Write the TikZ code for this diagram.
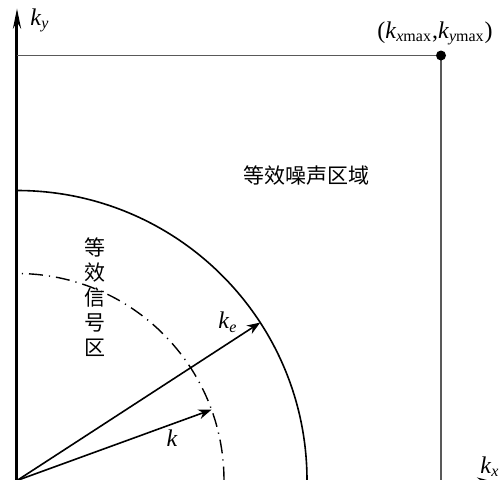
\documentclass[tikz,border=0pt]{standalone}
\usepackage{fontspec}
\setmainfont{Liberation Serif}
\newfontfamily\cjk{Noto Sans CJK SC}
\usepackage{tikz}
\usetikzlibrary{arrows.meta,positioning}

\begin{document}
\begin{tikzpicture}[>=Stealth,x=0.5pt,y=0.5pt]
  \useasboundingbox (-17,1.5) rectangle (486,480.5);
  \coordinate (O) at (0,0);
  \coordinate (ytop) at (0,472);
  \coordinate (xend) at (472,0);
  %% axes
  \draw[-{Stealth[length=10pt,width=4pt]},line width=1.5pt] (O)--(ytop);
  \draw[-{Stealth[length=6pt,width=3pt]},line width=0.8pt] (O)--(xend);
  \node[font=\large] (ky) at (23,460) {\textit{k}\textsubscript{\textit{y}}};
  \node[font=\large] (kx) at (473,14) {\textit{k}\textsubscript{\textit{x}}};
  %% noise square
  \coordinate (cmax) at (424,425);
  \draw[gray!70!black,line width=0.8pt] (0,425)--(cmax)--(424,0);
  \fill (cmax) circle (5);
  \node[font=\large] (kmax) at (418,447)
        {(\textit{k}\textsubscript{\textit{x}max},\textit{k}\textsubscript{\textit{y}max})};
  %% regions
  \draw[line width=0.8pt] (290,0) arc (0:90:290);
  \draw[line width=0.7pt,dash pattern=on 7pt off 3pt on 0.6pt off 3pt]
       (207,0) arc (0:90:207);
  \node[font=\cjk\fontsize{10.5}{13}\selectfont] (noise) at (289,305) {等效噪声区域};
  \node[font=\cjk\fontsize{10.5}{12.5}\selectfont,align=center] (signal) at (78,183)
        {等\\效\\信\\号\\区};
  %% vectors
  \coordinate (ke) at (33:290);
  \coordinate (k) at (20:207);
  \draw[->,line width=0.8pt] (O)--(ke);
  \draw[->,line width=0.8pt] (O)--(k);
  \node[font=\large] (lke) at (211,158) {\textit{k}\textsubscript{\textit{e}}};
  \node[font=\large] (lk) at (155,42) {\textit{k}};
\end{tikzpicture}
\end{document}
